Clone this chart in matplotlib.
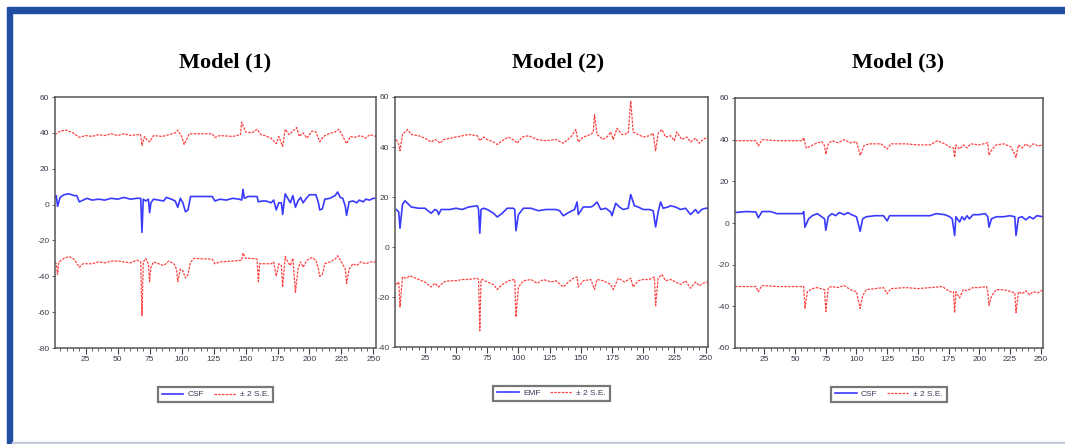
import matplotlib.pyplot as plt
from matplotlib.patches import Rectangle

plt.rcParams['font.family'] = ['Liberation Sans', 'DejaVu Sans']

titles = ['Model (1)', 'Model (2)', 'Model (3)']
line_names = ['CSF', 'EMF', 'CSF']
band_name = '\u00b1 2 S.E.'
y_ticks = [list(range(-80, 61, 20)), list(range(-40, 61, 20)), list(range(-60, 61, 20))]
x_ticks = [25, 50, 75, 100, 125, 150, 175, 200, 225, 250]

m1_line = [(1, 4), (2, 5), (3, -1), (5, 4), (8, 5.5), (12, 6), (16, 5), (18, 5), (20, 1.5), (23, 2.5),
           (26, 3.5), (30, 2.5), (35, 3), (40, 2.5), (45, 3.5), (50, 3), (55, 4), (60, 3), (65, 3.5),
           (68, 3.5), (69, -15.5), (70, 3), (72, 2), (74, 3), (75, -4.5), (76, 1), (78, 3), (82, 2.5),
           (86, 2), (88, 4), (92, 3), (95, 2), (97, -1.5), (99, 3.5), (101, 1), (103, -4), (105, -3),
           (107, 4.5), (124, 4.5), (126, 2), (130, 3), (135, 2.5), (140, 3.5), (145, 3), (147, 2.5),
           (148, 8.5), (149, 3.5), (152, 4.5), (159, 4.5), (160, 1.5), (163, 2), (166, 2), (170, 1),
           (172, 2.5), (174, -3), (176, 1), (178, 1), (179, -5.5), (181, 6), (183, 3.5), (185, 1),
           (187, 5), (189, -1.5), (191, 2), (193, 4), (195, 1), (197, 3), (200, 5.5), (205, 5.5),
           (207, 1), (208, -3), (210, -2.5), (212, 3), (216, 3.5), (220, 5), (222, 7), (224, 4),
           (226, 3.5), (228, -1), (229, -6), (231, 1.5), (234, 2), (237, 1), (239, 2.5), (242, 1.5),
           (244, 3), (247, 2.5), (250, 3.5), (252, 3.5)]
m1_upper = [(1, 39), (5, 41), (10, 41.5), (15, 40), (20, 37.5), (25, 38.5), (30, 38), (35, 39),
            (40, 38.5), (45, 39.5), (50, 38.5), (55, 39.5), (60, 38.5), (65, 39), (68, 39), (69, 33),
            (71, 38), (73, 36), (75, 35), (78, 38.5), (85, 38), (90, 39), (95, 40), (97, 41.5),
            (100, 38), (102, 33.5), (106, 39.5), (110, 39.5), (124, 39.5), (126, 37.5), (130, 38.5),
            (140, 38), (146, 39), (147, 46), (150, 40.5), (155, 40), (159, 42), (162, 39), (165, 38.5),
            (170, 37), (174, 34), (176, 38), (179, 32.5), (181, 42), (184, 39), (187, 41), (190, 43),
            (192, 38), (195, 40), (198, 37), (202, 41), (205, 40.5), (208, 35), (211, 38), (215, 39.5),
            (220, 40.5), (223, 42), (225, 39.5), (229, 34), (232, 38), (235, 37.5), (240, 38.5),
            (244, 37), (247, 39), (252, 38)]
m1_lower = [(1, -32), (2, -33), (3, -39), (4, -32), (8, -30), (12, -29), (16, -30.5), (20, -35),
            (23, -33), (30, -33), (35, -32), (40, -32.5), (45, -31.5), (50, -31.5), (55, -32),
            (60, -32.5), (65, -31), (68, -32), (69, -62), (70, -32), (72, -30), (74, -33), (75, -43),
            (76, -35), (78, -32), (82, -33), (86, -34), (90, -31.5), (94, -33), (96, -36), (97, -43),
            (99, -36), (101, -37), (103, -41), (105, -39), (107, -32), (110, -30), (124, -30.5),
            (126, -33), (130, -32), (140, -31.5), (147, -31), (148, -27), (150, -30), (155, -30),
            (159, -30.5), (160, -43), (161, -33), (165, -33), (170, -33), (172, -32), (174, -40),
            (176, -33), (178, -34), (179, -46), (181, -29), (183, -32), (185, -34), (187, -30),
            (189, -49), (191, -36), (193, -32), (195, -35), (198, -31), (202, -29.5), (205, -31),
            (207, -36), (208, -40), (210, -39), (212, -33), (216, -32), (220, -30.5), (222, -28.5),
            (225, -32), (228, -36), (229, -44), (231, -36), (234, -33), (237, -34), (240, -32),
            (244, -33), (248, -32), (252, -32)]

m2_line = [(2, 15), (4, 14), (5, 7.5), (7, 17), (9, 18.5), (11, 17.5), (14, 16), (20, 15.5),
           (25, 15.5), (30, 13.5), (33, 15), (35, 14.5), (36, 13), (38, 15), (45, 15), (50, 15.5),
           (55, 15), (60, 16), (67, 16.5), (68, 15), (69, 5.5), (70, 15), (72, 15.5), (75, 15),
           (80, 13.5), (83, 12), (87, 13.5), (91, 15.5), (96, 15.5), (97, 15), (98, 6.5), (100, 13),
           (104, 15.5), (110, 15.5), (116, 14.5), (122, 15), (130, 15), (133, 14.5), (136, 12.5),
           (141, 14), (145, 15), (147, 18), (148, 13), (152, 16), (158, 16), (160, 16.5), (163, 18),
           (166, 15), (170, 15.5), (174, 14), (175, 12.5), (178, 17.5), (181, 16), (184, 15),
           (188, 15.5), (190, 21), (193, 16.5), (196, 16), (200, 15), (205, 15), (208, 14.5),
           (210, 8), (212, 14), (214, 18), (216, 15.5), (220, 16), (222, 16.5), (226, 16),
           (230, 15), (234, 15.5), (238, 13), (242, 15), (244, 13.5), (247, 15), (250, 15.5),
           (252, 15.5)]
m2_upper = [(2, 43), (4, 41), (5, 38.5), (7, 45), (9, 46), (11, 47), (14, 45), (20, 44.5),
            (25, 43.5), (30, 42), (33, 43), (35, 42.5), (37, 41.5), (40, 43), (45, 43.5), (50, 44),
            (55, 44.5), (60, 45), (67, 44.5), (69, 42.5), (72, 44), (75, 43), (80, 42), (83, 41),
            (87, 42.5), (92, 44), (97, 42.5), (99, 41.5), (103, 44), (108, 44.5), (115, 43),
            (122, 42.5), (130, 43), (136, 41.5), (142, 44), (146, 47), (148, 42), (152, 44),
            (158, 45), (160, 46), (161, 53), (163, 45), (168, 43), (172, 44.5), (174, 46), (176, 43),
            (179, 47.5), (183, 45), (188, 45.5), (190, 58.5), (192, 46), (196, 45), (200, 44),
            (205, 44.5), (208, 45.5), (210, 38.5), (212, 45.5), (215, 47), (218, 44), (222, 44.5),
            (225, 42.5), (227, 46), (231, 43), (235, 44), (238, 42), (242, 43.5), (245, 41.5),
            (248, 43), (252, 44)]
m2_lower = [(2, -15), (4, -14), (5, -24), (7, -12), (10, -12.5), (13, -11.5), (20, -13), (25, -14),
            (30, -16), (33, -14.5), (36, -16), (40, -14), (45, -13.5), (50, -13.5), (55, -13),
            (60, -13), (67, -12.5), (68, -13), (69, -33.5), (70, -13), (71, -13), (75, -14),
            (80, -15), (83, -17), (87, -15), (92, -13.5), (97, -13), (98, -28), (100, -16),
            (104, -13.5), (110, -13), (115, -14.5), (120, -13), (126, -14), (130, -13.5), (136, -16),
            (140, -14), (144, -12.5), (147, -12), (148, -16), (152, -13.5), (158, -13), (161, -17),
            (163, -13), (168, -13.5), (174, -15), (176, -17), (180, -12.5), (185, -14), (190, -12.5),
            (192, -16), (196, -13.5), (200, -13), (205, -13), (209, -12), (210, -23.5), (212, -12.5),
            (215, -11), (218, -13.5), (222, -13), (226, -14), (230, -15), (234, -13.5), (238, -16.5),
            (242, -14), (245, -15.5), (248, -14.5), (252, -14)]

m3_line = [(1, 5), (10, 5.5), (18, 5.3), (20, 2.5), (23, 5.5), (30, 5.5), (35, 4.5), (50, 4.5),
           (56, 4.5), (57, 5.5), (58, -2), (61, 2), (64, 3.5), (68, 4.5), (74, 2), (75, -3.5),
           (77, 3), (80, 4.5), (83, 3.5), (86, 5), (90, 4), (93, 5), (96, 4), (100, 3), (103, -4),
           (105, 2), (108, 3), (115, 3.5), (122, 3.5), (125, 1), (127, 3.5), (140, 3.5), (150, 3.5),
           (160, 3.5), (165, 4.5), (172, 4), (176, 3), (178, 2), (180, -6), (181, 3), (184, 0.5),
           (186, 3), (188, 1.5), (190, 3.5), (192, 2), (195, 4), (200, 4), (205, 4.5), (207, 3),
           (208, -2), (210, 2), (214, 3), (220, 3), (225, 3.5), (229, 3), (230, -6), (232, 2.5),
           (235, 3), (238, 1.5), (241, 3), (244, 2), (247, 3.5), (252, 3)]
m3_upper = [(1, 39.5), (10, 39.5), (18, 39.5), (20, 37), (23, 40), (35, 39.5), (50, 39.5),
            (56, 39.5), (57, 41), (59, 36), (63, 37), (68, 38.5), (72, 39), (74, 37), (75, 33),
            (77, 38), (80, 39.5), (85, 38.5), (90, 40), (95, 38.5), (100, 39), (103, 32.5), (106, 37),
            (110, 38), (120, 38), (125, 35.5), (128, 38), (140, 38), (150, 37.5), (160, 37.5),
            (166, 39.5), (172, 38), (176, 36.5), (179, 36), (180, 31.5), (181, 37.5), (184, 35.5),
            (187, 37.5), (190, 36), (193, 38), (200, 37.5), (207, 38.5), (208, 32.5), (210, 35),
            (214, 37.5), (220, 38), (226, 36.5), (230, 31.5), (232, 37.5), (235, 36), (238, 38),
            (241, 36.5), (244, 38), (248, 37), (252, 37.5)]
m3_lower = [(1, -30.5), (18, -30.5), (20, -33), (23, -30), (35, -30.5), (50, -30.5), (57, -30.5),
            (58, -41), (60, -33), (64, -31.5), (68, -31), (74, -32), (75, -42.5), (77, -31),
            (80, -30.5), (85, -31), (90, -30), (95, -32), (100, -33), (103, -41), (105, -35),
            (108, -32), (115, -31.5), (122, -31), (125, -34), (128, -31.5), (140, -31), (150, -31.5),
            (160, -31), (170, -30.5), (176, -33), (179, -33), (180, -43), (181, -33), (184, -36),
            (187, -32), (190, -32.5), (195, -31), (200, -31), (206, -30.5), (207, -33), (208, -39.5),
            (210, -35), (214, -32), (220, -32), (226, -33), (229, -33.5), (230, -43), (232, -33),
            (235, -34), (238, -32.5), (241, -34.5), (244, -33), (248, -33.5), (252, -32)]

panels = [(m1_line, m1_upper, m1_lower), (m2_line, m2_upper, m2_lower), (m3_line, m3_upper, m3_lower)]

# axes boxes in pixels: left, top, right, bottom
boxes = [(55, 97, 376, 348), (395, 97, 708, 347), (735, 98, 1043, 348)]
title_x = [225, 558, 898]
W, H = 1065, 444

fig = plt.figure(figsize=(W / 100, H / 100), dpi=100)

# blue frame round the picture
fig.patches.append(Rectangle((7 / W, 1 - 13 / H), 1 - 7 / W, 6 / H, transform=fig.transFigure,
                             color='#1f4ea3', zorder=0))
fig.patches.append(Rectangle((7 / W, 0), 5 / W, 1 - 13 / H, transform=fig.transFigure,
                             color='#1f4ea3', zorder=0))
fig.patches.append(Rectangle((12 / W, 0), 1 - 12 / W, 2 / H, transform=fig.transFigure,
                             color='#c5cbd8', zorder=0))

for i, (line, upper, lower) in enumerate(panels):
    l, t, r, b = boxes[i]
    ax = fig.add_axes([l / W, 1 - b / H, (r - l) / W, (b - t) / H])
    ax.plot([p[0] for p in upper], [p[1] for p in upper], color='#ff4040', lw=0.9,
            ls=(0, (2, 1)), label=band_name)
    ax.plot([p[0] for p in lower], [p[1] for p in lower], color='#ff4040', lw=0.9,
            ls=(0, (2, 1)))
    ax.plot([p[0] for p in line], [p[1] for p in line], color='#3a3aff', lw=1.2,
            label=line_names[i])
    ax.set_xlim(1, 252)
    ax.set_ylim(y_ticks[i][0], y_ticks[i][-1])
    ax.set_yticks(y_ticks[i])
    ax.set_yticklabels([str(v) for v in y_ticks[i]])
    ax.set_xticks(x_ticks)
    ax.set_xticks(list(range(5, 252, 5)), minor=True)
    ax.tick_params(axis='x', which='major', length=4, width=0.8, color='#444444',
                   labelsize=6, labelcolor='#3a3a4a', pad=2)
    ax.tick_params(axis='x', which='minor', length=2, width=0.6, color='#444444')
    ax.tick_params(axis='y', length=2, width=0.6, color='#444444', labelsize=6,
                   labelcolor='#3a3a4a', pad=2)
    for s in ax.spines.values():
        s.set_color('#555555')
        s.set_linewidth(1.1)
    h, lab = ax.get_legend_handles_labels()
    leg = ax.legend(h[::-1], lab[::-1], loc='upper center', bbox_to_anchor=(0.5, -0.155), ncol=2,
                    fontsize=6, frameon=True, fancybox=False, handlelength=2.6,
                    columnspacing=1.2, handletextpad=0.5, borderpad=0.45, borderaxespad=0)
    leg.get_frame().set_edgecolor('#555555')
    leg.get_frame().set_linewidth(1.6)
    for txt in leg.get_texts():
        txt.set_color('#3a3a5a')
    fig.text(title_x[i] / W, 1 - 62 / H, titles[i], ha='center', va='center', fontsize=16,
             fontweight='bold', family=['Liberation Serif', 'DejaVu Serif'])

plt.savefig('out.png', dpi=100)
